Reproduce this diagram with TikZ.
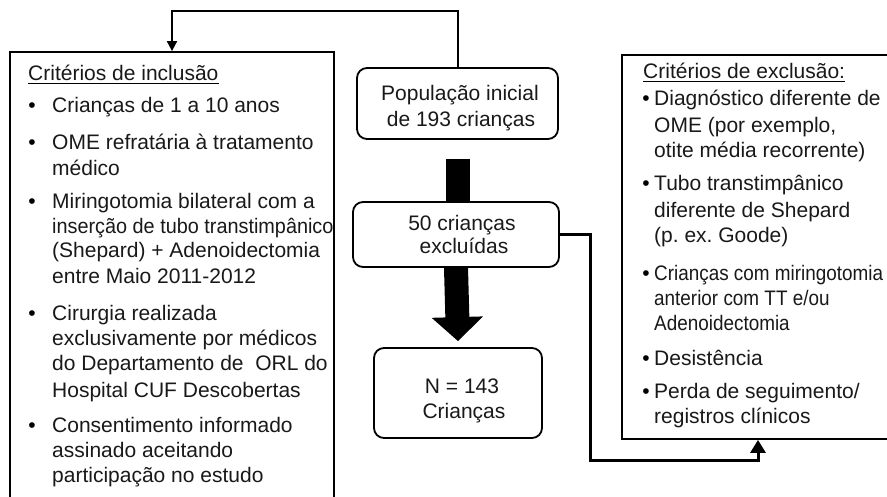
\documentclass[tikz,border=0pt]{standalone}
\usepackage{fontspec}
\setmainfont{Liberation Sans}
\newfontfamily\narrowfont[FakeStretch=0.9]{Liberation Sans}
\newfontfamily\tightfont[FakeStretch=0.945]{Liberation Sans}
\usetikzlibrary{arrows.meta}
\frenchspacing
\tikzset{
  frame/.style={draw, line width=1.8pt, inner sep=0pt},
  rbox/.style={draw, line width=1.8pt, rounded corners=10pt, inner sep=0pt},
  txt/.style={inner sep=0pt, anchor=base west, font=\fontsize{21}{25}\selectfont, text=black!90},
  ctxt/.style={inner sep=0pt, anchor=base, font=\fontsize{21}{25}\selectfont, text=black!90},
  bul/.style={inner sep=0pt, anchor=base, font=\fontsize{21}{25}\selectfont},
  link/.style={line width=2pt, -{Triangle[width=10pt,length=10pt]}},
  linkb/.style={line width=3pt, -{Triangle[width=15pt,length=13pt]}},
}
\begin{document}
\begin{tikzpicture}[x=1pt,y=-1pt]
\useasboundingbox (0,0) rectangle (887,496);
\clip (0,0) rectangle (887,496);
\fill[white] (0,0) rectangle (887,496);
% boxes
\node[frame, minimum width=324pt, minimum height=460pt] (incl) at (172,282) {};
\node[frame, minimum width=267pt, minimum height=384pt] (excl) at (755.5,247) {};
\node[rbox, minimum width=201pt, minimum height=71pt] (pop) at (457.5,103.5) {};
\node[rbox, minimum width=206pt, minimum height=65pt] (exc) at (456,234.5) {};
\node[rbox, minimum width=168pt, minimum height=90pt] (fin) at (458,393) {};
% middle texts
\node[ctxt] (pop1) at (460,100) {População inicial};
\node[ctxt] (pop2) at (461,126) {de 193 crianças};
\node[ctxt] (exc1) at (462,230) {50 crianças};
\node[ctxt] (exc2) at (464,253) {excluídas};
\node[ctxt] (fin1) at (462,393) {N = 143};
\node[ctxt] (fin2) at (464,418) {Crianças};
% left box texts
\node[txt] (ititle) at (28,80) {Critérios de inclusão};
\draw[line width=1.3pt] ([yshift=-3.5pt]ititle.base west) -- ([yshift=-3.5pt]ititle.base east);
\foreach \y/\t [count=\i] in {
  112/{Crianças de 1 a 10 anos},
  149/{OME refratária à tratamento},
  175/{médico},
  208/{Miringotomia bilateral com a},
  233/{\tightfont inserção de tubo transtimpânico},
  257/{(Shepard) + Adenoidectomia},
  283/{entre Maio 2011-2012},
  320/{Cirurgia realizada},
  345/{exclusivamente por médicos},
  370/{do Departamento de~ ORL do},
  397/{Hospital CUF Descobertas},
  432/{Consentimento informado},
  457/{assinado aceitando},
  482/{participação no estudo}}
  \node[txt] (inc\i) at (52,\y) {\t};
\foreach \y [count=\i] in {112,149,208,320,432}
  \node[bul] (ib\i) at (32,\y) {•};
% right box texts
\node[txt] (etitle) at (643,78) {Critérios de exclusão:};
\draw[line width=1.3pt] ([yshift=-3.5pt]etitle.base west) -- ([yshift=-3.5pt]etitle.base east);
\foreach \y/\t [count=\i] in {
  105/{Diagnóstico diferente de},
  132/{OME (por exemplo,},
  157/{otite média recorrente)},
  190/{Tubo transtimpânico},
  217/{diferente de Shepard},
  242/{(p. ex. Goode)},
  280/{\narrowfont Crianças com miringotomia},
  305/{\narrowfont anterior com TT e/ou},
  330/{\narrowfont Adenoidectomia},
  365/{Desistência},
  398/{Perda de seguimento/},
  423/{registros clínicos}}
  \node[txt] (exl\i) at (654,\y) {\t};
\foreach \y [count=\i] in {105,190,280,365,398}
  \node[bul] (eb\i) at (646,\y) {•};
% connectors
\draw[link] (pop.north) |- ([yshift=40pt]incl.north) -- (incl.north);
\draw[line width=24pt] ([yshift=-19pt]pop.south) -- (pop.south |- exc.north);
\draw[line width=24pt, -{Triangle[width=50pt,length=24pt]}] (exc.south) -- ([yshift=6pt]fin.north);
\coordinate (c1) at (590,460);
\draw[linkb] (exc.east) -| (c1) -| ([xshift=2.5pt]excl.south);
\end{tikzpicture}
\end{document}
